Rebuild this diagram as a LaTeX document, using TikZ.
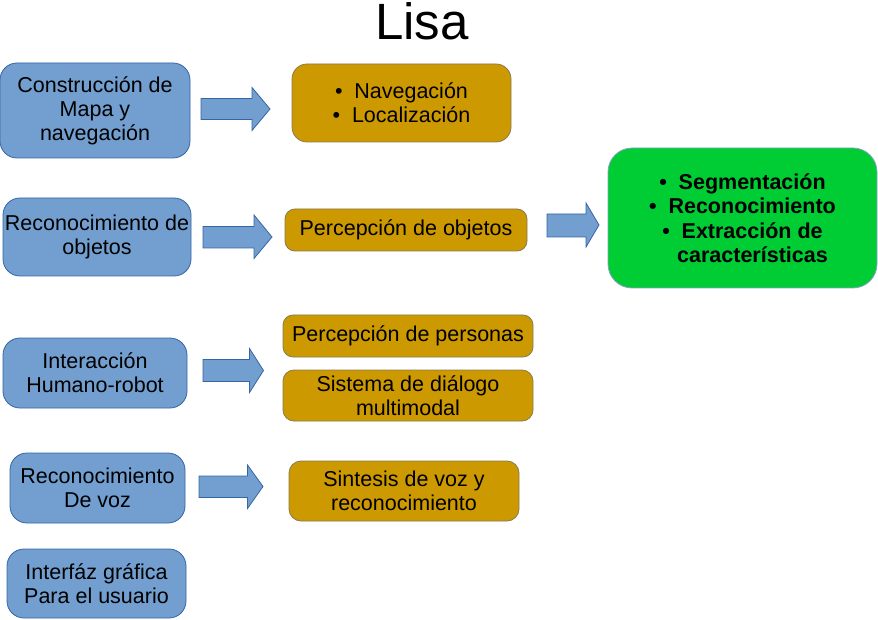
\documentclass[tikz,border=0pt]{standalone}
\usepackage{fontspec}
\setmainfont{Liberation Sans}
\definecolor{bluefill}{HTML}{729FCF}
\definecolor{blueline}{HTML}{3465A4}
\definecolor{goldfill}{HTML}{CC9900}
\definecolor{goldline}{HTML}{8A7A50}
\definecolor{greenfill}{HTML}{00CC33}
\begin{document}
\begin{tikzpicture}[x=1pt,y=-1pt,
  box/.style={draw, line width=0.8pt, inner sep=0pt, align=center,
    font=\fontsize{21.5}{24}\selectfont},
  bluebox/.style={box, fill=bluefill, draw=blueline, rounded corners=17pt},
  goldbox/.style={box, fill=goldfill, draw=goldline, rounded corners=12pt},
  greenbox/.style={box, fill=greenfill, draw=blueline!60, rounded corners=24pt,
    font=\fontsize{21.5}{24.5}\selectfont\bfseries},
  blockarrow/.style={fill=bluefill, draw=blueline, line width=0.8pt, line join=miter}
]
\useasboundingbox (0,0) rectangle (878,620);
\newcommand{\bul}{\textbullet\hspace{0.55em}}
% title
\node[font=\fontsize{51}{51}\selectfont, anchor=base] (title) at (422,40) {Lisa};
% boxes (x1,y1,x2,y2)
\node[bluebox, minimum width=190pt, minimum height=95pt] (b1) at (95,110.5) {Construcción de\\Mapa y\\navegación};
\node[goldbox, rounded corners=15pt, minimum width=219pt, minimum height=78pt] (g1) at (401.5,103) {\bul Navegación\\\bul Localización};
\node[bluebox, minimum width=188pt, minimum height=78pt] (b2) at (97,237) {Reconocimiento de\\objetos};
\node[goldbox, rounded corners=10pt, minimum width=242pt, minimum height=42pt] (g2) at (406,230) {Percepción de objetos};
\node[greenbox, minimum width=269pt, minimum height=140pt] (gr) at (742.5,218) {\bul Segmentación\\\bul Reconocimiento\\\bul Extracción de\\\hspace*{20pt}características};
\node[bluebox, minimum width=184pt, minimum height=70pt] (b3) at (95,373) {Interacción\\Humano-robot};
\node[goldbox, rounded corners=10pt, minimum width=250pt, minimum height=42pt] (g3) at (408,336) {Percepción de personas};
\node[goldbox, rounded corners=11pt, minimum width=250pt, minimum height=51pt] (g4) at (408,395.5) {Sistema de diálogo\\multimodal};
\node[bluebox, minimum width=175pt, minimum height=70pt] (b4) at (97.5,488) {Reconocimiento\\De voz};
\node[goldbox, rounded corners=12pt, minimum width=230pt, minimum height=60pt] (g5) at (404,491) {Sintesis de voz y\\reconocimiento};
\node[bluebox, minimum width=179pt, minimum height=69pt] (b5) at (96.5,583.5) {Interfáz gráfica\\Para el usuario};
% block arrows
\draw[blockarrow] (201,98.5) -- (252,98.5) -- (252,87.5) -- (270,109) -- (252,130.5) -- (252,119.5) -- (201,119.5) -- cycle;
\draw[blockarrow] (203,226.5) -- (254,226.5) -- (254,215) -- (272,237) -- (254,258.5) -- (254,248) -- (203,248) -- cycle;
\draw[blockarrow] (547,214) -- (586,214) -- (586,203) -- (599,225) -- (586,247) -- (586,237) -- (547,237) -- cycle;
\draw[blockarrow] (203,359.5) -- (249.5,359.5) -- (249.5,348.5) -- (263.5,370.5) -- (249.5,392.5) -- (249.5,381.5) -- (203,381.5) -- cycle;
\draw[blockarrow] (199,476) -- (247.5,476) -- (247.5,465) -- (263,486.5) -- (247.5,508.5) -- (247.5,497.5) -- (199,497.5) -- cycle;
\end{tikzpicture}
\end{document}
